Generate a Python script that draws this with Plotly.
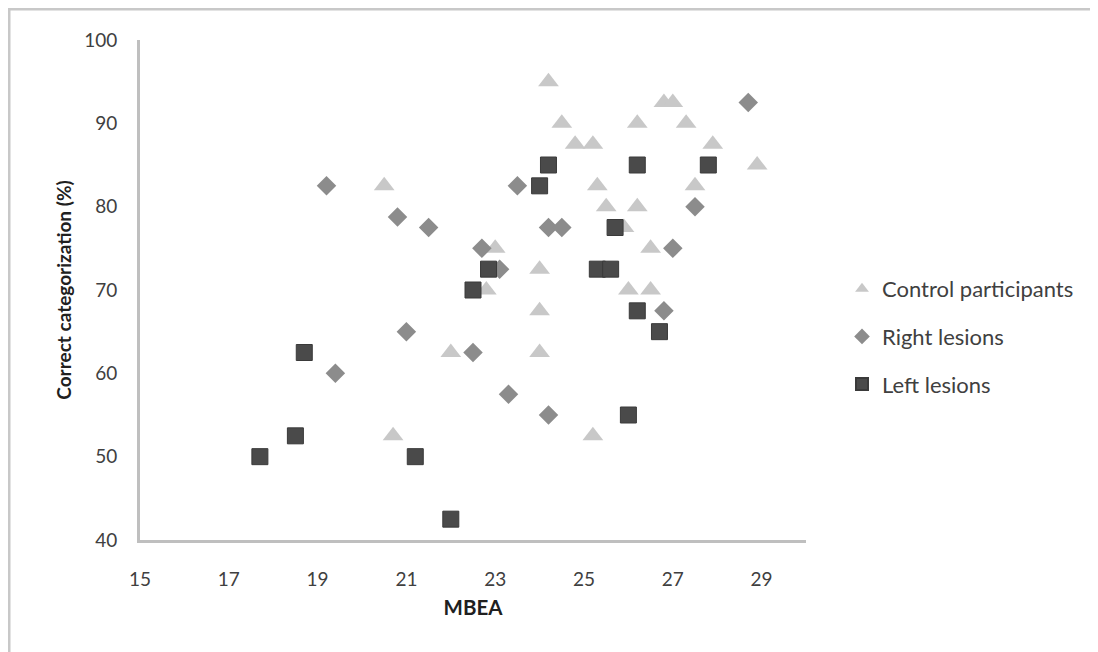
import plotly.graph_objects as go

# Control participants
ctrl_x = [24.2, 26.8, 27.0, 24.5, 26.2, 27.3, 24.8, 25.2, 27.9, 28.9, 25.3, 27.5, 20.5,
          25.5, 26.2, 25.9, 23.0, 26.5, 24.0, 22.8, 26.0, 26.5, 24.0, 24.0, 22.0, 20.7, 25.2]
ctrl_y = [95, 92.5, 92.5, 90, 90, 90, 87.5, 87.5, 87.5, 85, 82.5, 82.5, 82.5,
          80, 80, 77.5, 75, 75, 72.5, 70, 70, 70, 67.5, 62.5, 62.5, 52.5, 52.5]

# Right lesions
right_x = [28.7, 23.5, 19.2, 20.8, 21.5, 27.5, 24.2, 24.5, 22.7, 27.0, 23.1, 26.8,
           21.0, 22.5, 19.4, 23.3, 24.2]
right_y = [92.5, 82.5, 82.5, 78.75, 77.5, 80, 77.5, 77.5, 75, 75, 72.5, 67.5,
           65, 62.5, 60, 57.5, 55]

# Left lesions
left_x = [24.2, 26.2, 27.8, 24.0, 25.7, 22.85, 25.3, 25.6, 22.5, 26.2, 26.7, 18.7,
          26.0, 18.5, 17.7, 21.2, 22.0]
left_y = [85, 85, 85, 82.5, 77.5, 72.5, 72.5, 72.5, 70, 67.5, 65, 62.5,
          55, 52.5, 50, 50, 42.5]

x_ticks = [15, 17, 19, 21, 23, 25, 27, 29]
y_ticks = [40, 50, 60, 70, 80, 90, 100]

FONT = "Lato"
TXT = "#404040"

fig = go.Figure()
fig.add_trace(go.Scatter(x=ctrl_x, y=ctrl_y, mode="markers", name="Control participants",
                         legendgroup="a",
                         marker=dict(symbol="triangle-up", size=18, color="#c8c8c8")))
fig.add_trace(go.Scatter(x=right_x, y=right_y, mode="markers", name="Right lesions",
                         legendgroup="b",
                         marker=dict(symbol="diamond", size=15, color="#8c8c8c")))
fig.add_trace(go.Scatter(x=left_x, y=left_y, mode="markers", name="Left lesions",
                         legendgroup="c",
                         marker=dict(symbol="square", size=16, color="#4a4a4a",
                                     line=dict(color="#3a3a3a", width=1))))

# page has an 8px body margin, so figure coords = reference pixel - 8
OFF = 8
L, T = 140 - OFF, 40 - OFF
PW, PH = 666, 500
W, H = 1098, 652

def px2x(p):
    return (p - 140) / PW

def py2y(p):
    return (540 - p) / PH

fig.update_layout(
    width=W, height=H,
    margin=dict(l=L, r=W - L - PW, t=T, b=H - T - PH),
    paper_bgcolor="white", plot_bgcolor="white",
    font=dict(family=FONT, size=19, color=TXT),
    showlegend=True,
    legend=dict(x=px2x(842), y=py2y(268), xanchor="left", yanchor="top",
                font=dict(family=FONT, size=22, color=TXT),
                itemsizing="constant", tracegroupgap=16, bgcolor="rgba(0,0,0,0)"),
    xaxis=dict(range=[15, 30], tickvals=x_ticks, ticktext=[str(v) for v in x_ticks],
               showgrid=False, zeroline=False, showline=True, linecolor="#bfbfbf",
               linewidth=3, ticks="", ticklabelstandoff=20,
               tickfont=dict(family=FONT, size=19, color=TXT),
               title=dict(text="<b>MBEA</b>", standoff=12,
                          font=dict(family=FONT, size=20.5, color="#202020"))),
    yaxis=dict(range=[40, 100], tickvals=y_ticks, ticktext=[str(v) for v in y_ticks],
               showgrid=False, zeroline=False, showline=True, linecolor="#bfbfbf",
               linewidth=3, ticks="", ticklabelstandoff=16,
               tickfont=dict(family=FONT, size=19, color=TXT),
               title=dict(text="<b>Correct categorization (%)</b>", standoff=8,
                          font=dict(family=FONT, size=19, color="#202020"))),
    shapes=[
        dict(type="line", xref="paper", yref="paper", x0=px2x(8), x1=px2x(1110),
             y0=py2y(9), y1=py2y(9), line=dict(color="#c8c8c8", width=3)),
        dict(type="line", xref="paper", yref="paper", x0=px2x(9), x1=px2x(9),
             y0=py2y(8), y1=py2y(660), line=dict(color="#c8c8c8", width=3)),
    ],
)

fig.write_html("out.html")
